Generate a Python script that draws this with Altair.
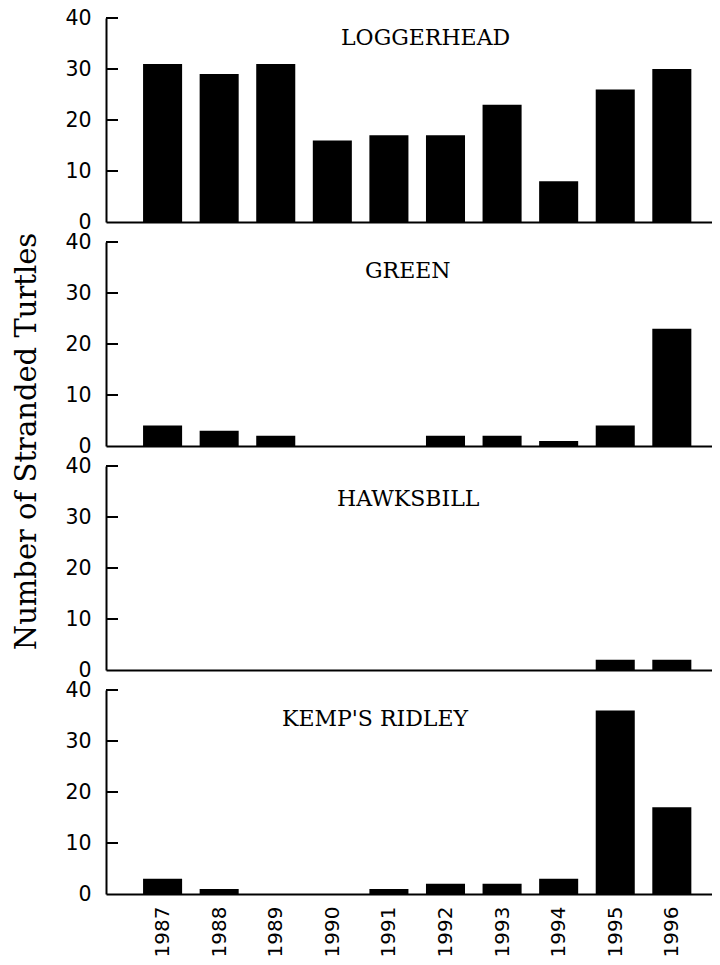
import altair as alt
import pandas as pd

years = [1987, 1988, 1989, 1990, 1991, 1992, 1993, 1994, 1995, 1996]
species = ["LOGGERHEAD", "GREEN", "HAWKSBILL", "KEMP'S RIDLEY"]
loggerhead = [31, 29, 31, 16, 17, 17, 23, 8, 26, 30]
green = [4, 3, 2, 0, 0, 2, 2, 1, 4, 23]
hawksbill = [0, 0, 0, 0, 0, 0, 0, 0, 2, 2]
kemps_ridley = [3, 1, 0, 0, 1, 2, 2, 3, 36, 17]
y_tick_values = [0, 10, 20, 30, 40]
inner_tick_values = [10, 20, 30, 40]
y_title = "Number of Stranded Turtles"

series = [loggerhead, green, hawksbill, kemps_ridley]
# title placement inside each panel (pixels relative to plot area)
title_pos = [(235, 27), (259, 36), (231, 40), (176, 36)]

W, H = 606, 204
xscale = alt.Scale(domain=[1986, 1996.71], nice=False, zero=False)
yscale = alt.Scale(domain=[0, 40], nice=False)

panels = []
for i, (name, vals) in enumerate(zip(species, series)):
    df = pd.DataFrame({"year": years, "count": vals})
    last = i == len(species) - 1
    if last:
        xaxis = alt.Axis(values=years, format="d", labelAngle=-90, ticks=False,
                         labelPadding=12, labelFont="DejaVu Sans", labelFontSize=20,
                         labelColor="black", title=None, grid=False,
                         domainColor="black", domainWidth=2, labelFlush=False)
    else:
        xaxis = alt.Axis(labels=False, ticks=False, title=None, grid=False,
                         domainColor="black", domainWidth=2)
    yaxis_kwargs = dict(values=y_tick_values, ticks=False, labelPadding=15,
                        labelFont="DejaVu Sans", labelFontSize=20.5, labelColor="black",
                        grid=False, domainColor="black", domainWidth=2, labelFlush=False)
    if i == 1:
        yaxis = alt.Axis(title=y_title, titleFont="DejaVu Serif", titleFontSize=29,
                         titleFontWeight="normal", titleColor="black", titleAngle=270,
                         titleAlign="center", titleBaseline="alphabetic",
                         titleX=-71, titleY=199, **yaxis_kwargs)
    else:
        yaxis = alt.Axis(title=None, **yaxis_kwargs)

    bars = alt.Chart(df).transform_calculate(
        x0="datum.year - 0.345", x1="datum.year + 0.345"
    ).mark_bar(color="black").encode(
        x=alt.X("x0:Q", scale=xscale, axis=xaxis),
        x2="x1:Q",
        y=alt.Y("count:Q", scale=yscale, axis=yaxis),
        y2=alt.datum(0),
    )
    ticks = alt.Chart(pd.DataFrame({"v": inner_tick_values})).mark_rule(
        color="black", strokeWidth=2
    ).encode(
        y=alt.Y("v:Q", scale=yscale),
        x=alt.value(0), x2=alt.value(12),
    )
    tx, ty = title_pos[i]
    label = alt.Chart(pd.DataFrame({"name": [name]})).mark_text(
        font="DejaVu Serif", fontSize=22, align="left", baseline="alphabetic",
        color="black"
    ).encode(
        text="name:N", x=alt.value(tx), y=alt.value(ty)
    )
    panels.append(alt.layer(bars, ticks, label).properties(width=W, height=H))

chart = alt.vconcat(*panels, spacing=20, bounds="flush").properties(
    padding={"left": 3, "top": 0, "right": 0, "bottom": 0}, background="white"
).configure_view(stroke=None)

chart.save("out.html", embed_options={"renderer": "svg", "actions": False})
